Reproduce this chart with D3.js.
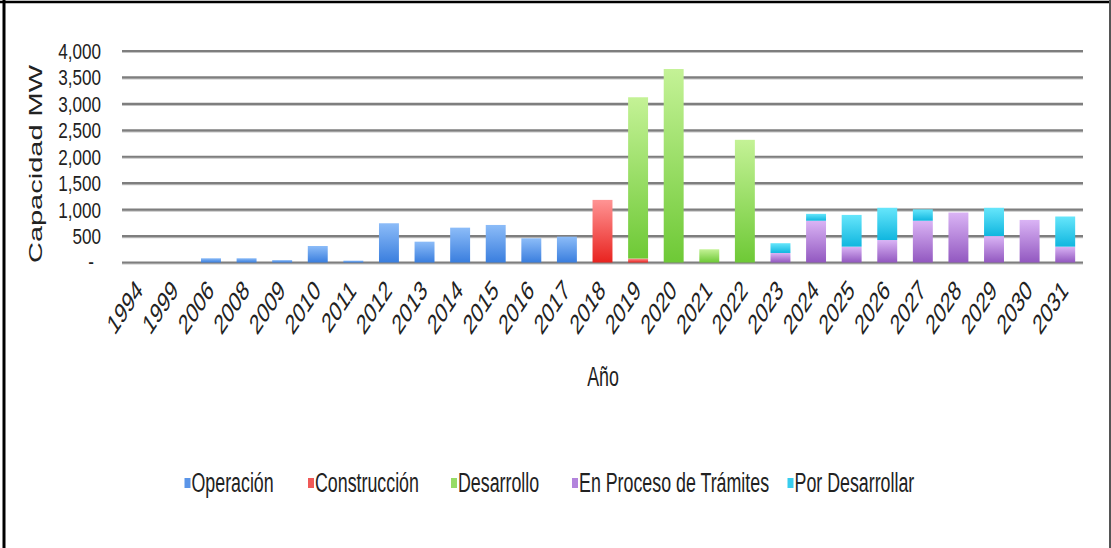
<!DOCTYPE html>
<html>
<head>
<meta charset="utf-8">
<script src="https://cdn.jsdelivr.net/npm/d3@7"></script>
<style>
  html, body { margin: 0; padding: 0; background: #fff; }
  svg { display: block; }
  text { font-family: "Liberation Sans", Arial, Helvetica, sans-serif; fill: #222; }
</style>
</head>
<body>
<svg id="chart" width="1111" height="548"></svg>
<script>
// Capacidad instalada y proyectada por año (MW)
const years = ["1994","1999","2006","2008","2009","2010","2011","2012","2013","2014",
  "2015","2016","2017","2018","2019","2020","2021","2022","2023","2024","2025",
  "2026","2027","2028","2029","2030","2031"];

const operacion     = [0,0,80,80,45,312,35,742,394,659,710,458,489,0,0,0,0,0,0,0,0,0,0,0,0,0,0];
const construccion  = [0,0,0,0,0,0,0,0,0,0,0,0,0,1184,75,0,0,0,0,0,0,0,0,0,0,0,0];
const desarrollo    = [0,0,0,0,0,0,0,0,0,0,0,0,0,0,3050,3659,250,2320,0,0,0,0,0,0,0,0,0];
const tramites      = [0,0,0,0,0,0,0,0,0,0,0,0,0,0,0,0,0,0,180,790,300,425,790,945,500,805,300];
const porDesarrollar= [0,0,0,0,0,0,0,0,0,0,0,0,0,0,0,0,0,0,185,130,600,610,215,0,535,0,570];

const seriesNames = ["Operación","Construcción","Desarrollo","En Proceso de Trámites","Por Desarrollar"];
const seriesValues = [operacion, construccion, desarrollo, tramites, porDesarrollar];
const yTicks = [0,500,1000,1500,2000,2500,3000,3500,4000];

// gradient stops (top, bottom) and legend swatch colour per series
const palette = [
  { top: "#8cbcf8", bottom: "#3a7ede", swatch: "#5b95e8" },
  { top: "#ff9494", bottom: "#e8231f", swatch: "#f05a58" },
  { top: "#c4f296", bottom: "#6ec936", swatch: "#96dc66" },
  { top: "#dab4f5", bottom: "#9258c0", swatch: "#b384dc" },
  { top: "#66e6fb", bottom: "#10b6df", swatch: "#38cdee" }
];

const K = 0.66; // horizontal squeeze applied to the lettering

const svg = d3.select("#chart");
const plotLeft = 122, plotRight = 1083, plotTop = 51, plotBottom = 262.5;

const x = d3.scaleBand().domain(years).range([plotLeft, plotRight]).paddingInner(0.44).paddingOuter(0.22);
const y = d3.scaleLinear().domain([0, 4000]).range([plotBottom, plotTop]);

// frame
svg.append("line").attr("x1", 4).attr("x2", 4).attr("y1", 0).attr("y2", 548)
  .attr("stroke", "#000").attr("stroke-width", 3);
svg.append("line").attr("x1", 0).attr("x2", 1111).attr("y1", 2).attr("y2", 2)
  .attr("stroke", "#000").attr("stroke-width", 2.5);
svg.append("line").attr("x1", 1110).attr("x2", 1110).attr("y1", 0).attr("y2", 548)
  .attr("stroke", "#555").attr("stroke-width", 2);

// gradients
const defs = svg.append("defs");
palette.forEach((p, i) => {
  const g = defs.append("linearGradient").attr("id", "grad" + i)
    .attr("x1", 0).attr("y1", 0).attr("x2", 0).attr("y2", 1);
  g.append("stop").attr("offset", "0%").attr("stop-color", p.top);
  g.append("stop").attr("offset", "100%").attr("stop-color", p.bottom);
});

// horizontal gridlines
const grid = svg.append("g");
grid.selectAll("line.shadow").data(yTicks).join("line")
  .attr("x1", plotLeft).attr("x2", plotRight)
  .attr("y1", d => y(d) + 1.3).attr("y2", d => y(d) + 1.3)
  .attr("stroke", "#c4c4c4").attr("stroke-width", 1.6);
grid.selectAll("line.main").data(yTicks).join("line")
  .attr("x1", plotLeft).attr("x2", plotRight)
  .attr("y1", d => y(d)).attr("y2", d => y(d))
  .attr("stroke", "#7e7e7e").attr("stroke-width", 2.2);

// stacked bars
const table = years.map((yr, i) => {
  const row = { year: yr };
  seriesNames.forEach((n, j) => row[n] = seriesValues[j][i]);
  return row;
});
const stacked = d3.stack().keys(seriesNames)(table);

svg.append("g").selectAll("g").data(stacked).join("g")
  .attr("fill", (d, i) => `url(#grad${i})`)
  .selectAll("rect").data(d => d.filter(s => s[1] - s[0] > 0)).join("rect")
  .attr("x", d => x(d.data.year))
  .attr("width", x.bandwidth())
  .attr("y", d => y(d[1]))
  .attr("height", d => y(d[0]) - y(d[1]));

// y tick labels
const fmt = d3.format(",");
const KY = 0.76;
svg.append("g").selectAll("text").data(yTicks).join("text")
  .attr("transform", d => d === 0
    ? `translate(91,${y(d) - 1}) scale(${KY},1)`
    : `translate(101,${y(d)}) scale(${KY},1)`)
  .attr("text-anchor", d => d === 0 ? "middle" : "end")
  .attr("dominant-baseline", "central")
  .style("font-size", "22.5px")
  .text(d => d === 0 ? "-" : fmt(d));

// y axis title
svg.append("text")
  .attr("transform", `translate(35,164) scale(${K},1) rotate(-90)`)
  .attr("text-anchor", "middle").attr("dominant-baseline", "central")
  .style("font-size", "29px")
  .text("Capacidad MW");

// x tick labels
svg.append("g").selectAll("text").data(years).join("text")
  .attr("transform", d => `translate(${x(d) + x.bandwidth() / 2 + 4},292) scale(${K},1) rotate(-45)`)
  .attr("text-anchor", "end")
  .style("font-size", "28px")
  .text(d => d);

// x axis title
svg.append("text")
  .attr("transform", `translate(603,386) scale(${K},1)`)
  .attr("text-anchor", "middle")
  .style("font-size", "27px")
  .text("Año");

// legend
const legendX = [184.5, 308, 451, 572, 787.5];
const KL = 0.66;
const legend = svg.append("g");
seriesNames.forEach((n, i) => {
  legend.append("rect").attr("x", legendX[i]).attr("y", 478).attr("width", 6).attr("height", 10)
    .attr("fill", palette[i].swatch);
  legend.append("text")
    .attr("transform", `translate(${legendX[i] + 7},492) scale(${KL},1)`)
    .style("font-size", "27px")
    .text(n);
});
</script>
</body>
</html>
